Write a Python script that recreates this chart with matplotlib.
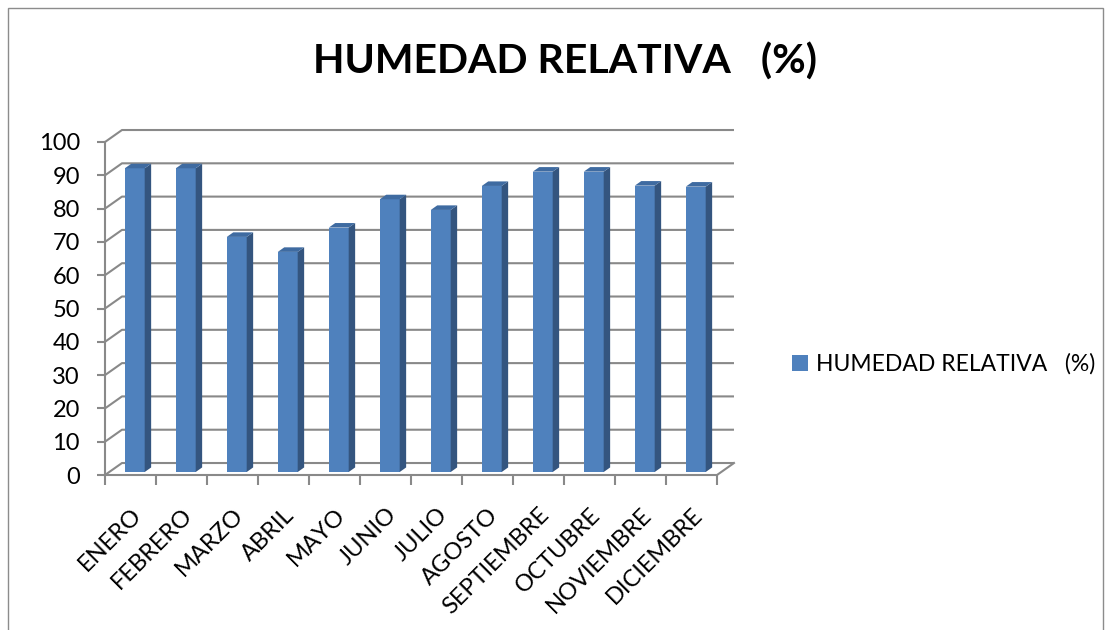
import numpy as np
import matplotlib.pyplot as plt
from matplotlib.patches import Rectangle

plt.rcParams['font.family'] = ['Lato', 'DejaVu Sans']

# --- datos ---
meses = ["ENERO", "FEBRERO", "MARZO", "ABRIL", "MAYO", "JUNIO", "JULIO",
         "AGOSTO", "SEPTIEMBRE", "OCTUBRE", "NOVIEMBRE", "DICIEMBRE"]
humedad = [91.2, 91.2, 70.6, 66.1, 73.4, 81.9, 78.7, 85.9, 90.2, 90.2, 86.0, 85.7]
serie = "HUMEDAD RELATIVA   (%)"
titulo = "HUMEDAD RELATIVA   (%)"

# --- estilo ---
W, H = 1110, 630
GRID = '#898989'
FRONT = '#4F81BD'
SIDE = '#34557F'
TOP = '#3F6BA1'
DX, DY = 0.333, 3.6      # profundidad del "3D" en unidades de datos
F0, F1 = 0.25, 0.63      # frente y fondo de las barras (fraccion de profundidad)
BW = 0.39                # ancho de la barra

fig = plt.figure(figsize=(W / 100, H / 100), dpi=100)
ax = fig.add_axes([105 / W, 155 / H, 612 / W, 333 / H])
ax.set_xlim(0, len(meses))
ax.set_ylim(0, 100)

# pared del fondo + piso
for v in range(0, 101, 10):
    ax.plot([0, DX, len(meses) + DX], [v, v + DY, v + DY], color=GRID, lw=1.5,
            clip_on=False, zorder=1, solid_capstyle='butt')
ax.plot([len(meses) + DX, len(meses)], [DY, 0], color=GRID, lw=1.5, clip_on=False, zorder=1)

# barras
x = np.arange(len(meses)) + 0.5 + F0 * DX
vals = np.array(humedad)
bars = ax.bar(x, vals, width=BW, bottom=F0 * DY, color=FRONT, zorder=3, label=serie)
ddx, ddy = (F1 - F0) * DX, (F1 - F0) * DY
for xi, v in zip(x, vals):
    r = xi + BW / 2
    l = xi - BW / 2
    b = F0 * DY
    t = v + F0 * DY
    ax.fill([r, r + ddx, r + ddx, r], [b, b + ddy, t + ddy, t], color=SIDE, zorder=3, lw=0)
    ax.fill([l, r, r + ddx, l + ddx], [t, t, t + ddy, t + ddy], color=TOP, zorder=3, lw=0)

# ejes
for s in ['top', 'right']:
    ax.spines[s].set_visible(False)
for s in ['left', 'bottom']:
    ax.spines[s].set_color(GRID)
    ax.spines[s].set_linewidth(1.5)
ax.set_yticks(range(0, 101, 10))
ax.tick_params(axis='y', colors=GRID, labelcolor='black', labelsize=17, length=6, width=1.5, pad=12)
ax.set_xticks(range(0, len(meses) + 1))
ax.set_xticklabels([])
ax.set_xticks(np.arange(len(meses)) + 0.5, minor=True)
ax.set_xticklabels(meses, minor=True, rotation=45, ha='right', va='top', rotation_mode='anchor')
ax.tick_params(axis='x', which='major', colors=GRID, length=7, width=1.5)
ax.tick_params(axis='x', which='minor', length=0, labelsize=17, pad=21)
ax.set_facecolor('none')

fig.text(565 / W, 1 - 62 / H, titulo, ha='center', va='center', fontsize=29.5, weight='bold')

fig.legend([bars], [serie], loc='center left', bbox_to_anchor=(771 / W, 1 - 364 / H),
           frameon=False, fontsize=16.5, handlelength=0.7, handleheight=0.7, handletextpad=0.35)

fig.add_artist(Rectangle((8 / W, -0.1), 1095 / W, 1.1 - 8 / H, transform=fig.transFigure,
                         fill=False, ec='#8c8c8c', lw=1))

fig.savefig('out.png', dpi=100, facecolor='white')
